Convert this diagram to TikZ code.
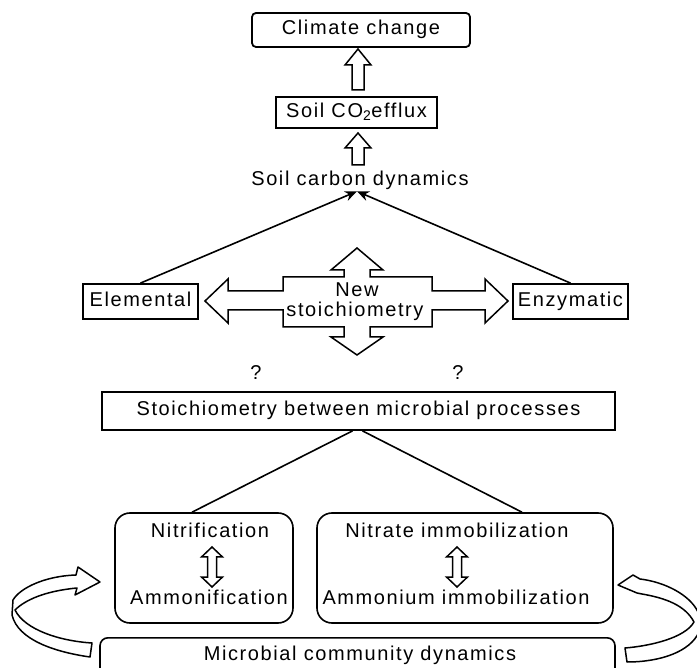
\documentclass[tikz,border=0pt]{standalone}
\usepackage{fontspec}
\setmainfont[LetterSpace=8]{Liberation Sans}
\usetikzlibrary{arrows.meta,calc}
\newcommand\uparr[6]{% x, ybase, ytip, shaft half, head half, head length
  \draw[hollow] (#1-#4,#2) -- (#1-#4,#3+#6) -- (#1-#5,#3+#6) -- (#1,#3)
    -- (#1+#5,#3+#6) -- (#1+#4,#3+#6) -- (#1+#4,#2) -- cycle;}
\newcommand\dblarr[6]{% x, ytop, ybot, shaft half, head half, head length
  \draw[hollow] (#1,#2) -- (#1+#5,#2+#6) -- (#1+#4,#2+#6) -- (#1+#4,#3-#6)
    -- (#1+#5,#3-#6) -- (#1,#3) -- (#1-#5,#3-#6) -- (#1-#4,#3-#6)
    -- (#1-#4,#2+#6) -- (#1-#5,#2+#6) -- cycle;}
\begin{document}
\begin{tikzpicture}[x=1pt,y=-1pt,
  every node/.style={font=\fontsize{20}{22}\selectfont, inner sep=0pt},
  box/.style={draw, line width=1.8pt, text height=14pt, text depth=4pt},
  rbox/.style={box, rounded corners=4pt},
  pbox/.style={draw, line width=1.6pt, rounded corners=15pt},
  txt/.style={anchor=base},
  ln/.style={line width=1.6pt},
  hollow/.style={draw, fill=white, line width=1.5pt, line join=miter}]
\clip (0,0) rectangle (697,668);
\fill[white] (0,0) rectangle (697,668);

% top chain
\node[rbox, minimum width=218pt, minimum height=34pt] (climate) at (361,30) {Climate change};
\node[box, minimum width=161pt, minimum height=31pt] (co2) at (356.5,112.5) {Soil CO\textsubscript{2}efflux};
\node[txt, inner sep=1pt] (scd) at (360,186) {Soil carbon dynamics};
\uparr{358}{90}{49}{6}{13}{16}
\uparr{358}{165}{133}{6}{13}{15}

% elemental / enzymatic
\node[box, minimum width=115pt, minimum height=35pt] (elem) at (140.5,301.5) {Elemental};
\node[box, minimum width=115pt, minimum height=35pt] (enz) at (570.5,301.5) {Enzymatic};
\coordinate (apex) at ([xshift=-3pt]scd.south);
\draw[ln, -{Stealth[length=12pt,width=10pt]}] (elem.north) -- (apex);
\draw[ln, -{Stealth[length=12pt,width=10pt]}] (enz.north) -- (apex);

% four-way arrow
\draw[hollow] (357,248) -- (383,270) -- (370,270) -- (370,277) -- (432,277) -- (432,291)
  -- (485,291) -- (485,279) -- (508,301) -- (485,323) -- (485,310) -- (432,310)
  -- (432,327) -- (370,327) -- (370,337) -- (383,337) -- (357,355) -- (331,337)
  -- (344,337) -- (344,327) -- (283,327) -- (283,310) -- (228,310) -- (228,323)
  -- (205,301) -- (228,279) -- (228,291) -- (283,291) -- (283,277) -- (344,277)
  -- (344,270) -- (331,270) -- cycle;
\node[txt] (new) at (357,297) {New};
\node[txt] (stoi) at (355,317) {stoichiometry};

% question marks
\node[txt] (q1) at (256,380) {?};
\node[txt] (q2) at (458,380) {?};

% stoichiometry box
\node[box, minimum width=513pt, minimum height=38pt] (stoich) at (358.5,411) {Stoichiometry between microbial processes};

% process boxes
\node[pbox, minimum width=178pt, minimum height=110pt] (nitbox) at (204,568) {};
\node[pbox, minimum width=296pt, minimum height=110pt] (nibox) at (465,568) {};
\draw[ln] ([xshift=-6pt]stoich.south) -- ([xshift=-12pt]nitbox.north);
\draw[ln] ([xshift=4pt]stoich.south) -- ([xshift=57pt]nibox.north);

\node[txt] (nitr) at (210,538) {Nitrification};
\node[txt] (ammf) at (209,605) {Ammonification};
\node[txt] (nimm) at (457,538) {Nitrate immobilization};
\node[txt] (aimm) at (456,605) {Ammonium immobilization};
\dblarr{212}{547}{587}{4.5}{10.5}{10}
\dblarr{457}{547}{587}{4.5}{10.5}{10}

% microbial community box
\node[draw, line width=1.6pt, rounded corners=8pt, minimum width=515pt, minimum height=60pt, anchor=north] (micro) at (357.5,637) {};
\node[txt] (mcd) at (360,660) {Microbial community dynamics};

% curved arrows
\draw[hollow, line join=round] (92,643) .. controls (60,641) and (25,630) .. (15,610)
  .. controls (25,600) and (45,591) .. (77,588)
  -- (75,595) -- (100,582) -- (78,567) -- (76,575)
  .. controls (45,576) and (20,588) .. (13,600)
  -- (12,615)
  .. controls (18,640) and (55,652) .. (90,657) -- cycle;
\draw[hollow, line join=round] (625,648) .. controls (650,646) and (685,638) .. (694,622)
  .. controls (685,605) and (665,598) .. (642,594)
  -- (637,593) -- (618,585) -- (633,575) -- (640,579)
  .. controls (665,582) and (690,595) .. (698,612)
  -- (699,632)
  .. controls (690,652) and (660,662) .. (627,662) -- cycle;
\end{tikzpicture}
\end{document}
